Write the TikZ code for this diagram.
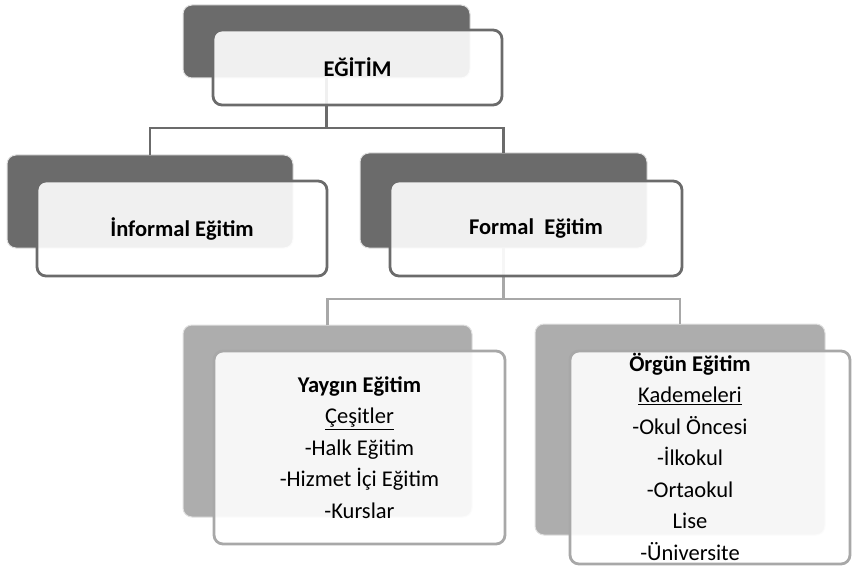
\documentclass[tikz,border=0pt]{standalone}
\usepackage{fontspec}
\setmainfont{Carlito}
\definecolor{darkbox}{HTML}{6B6B6B}
\definecolor{lightbox}{HTML}{ADADAD}
\definecolor{lightline}{HTML}{A8A8A8}
\tikzset{
every node/.style={inner sep=0pt, outer sep=0pt}, % sizes below are the full box sizes
backbox/.style={rectangle, rounded corners=9pt, draw=black!12, line width=1pt, fill=darkbox}, % the shadow box at the back
backlight/.style={backbox, fill=lightbox},
frontbox/.style={rectangle, rounded corners=9pt, draw=darkbox, line width=2.8pt, fill=white, fill opacity=0.9, text opacity=1, align=center, font=\fontsize{22.5}{31.5}\selectfont}, % the box with the text
frontlight/.style={frontbox, draw=lightline},
link/.style={draw=darkbox, line width=2.8pt},
linklight/.style={link, draw=lightline},
}
\begin{document}
\begin{tikzpicture}[x=1pt, y=-1pt]
    \useasboundingbox (0,0) rectangle (852,567);
    % back boxes
    \node[backbox, minimum width=287pt, minimum height=73pt] (egitimBack) at (326.5,41.5) {};
    \node[backbox, minimum width=286pt, minimum height=93pt] (informalBack) at (150,201.5) {};
    \node[backbox, minimum width=287pt, minimum height=95pt] (formalBack) at (503.5,200.5) {};
    \node[backlight, minimum width=289pt, minimum height=192pt] (yayginBack) at (327.5,421) {};
    \node[backlight, minimum width=290pt, minimum height=211pt] (orgunBack) at (680,429.5) {};
    % connectors
    \draw[link] (egitimBack.south) -- ++(0,50) coordinate (topJoin);
    \draw[link] (informalBack.north) |- (topJoin) -| (formalBack.north);
    \draw[linklight] (formalBack.south) -- ++(0,51) coordinate (lowJoin);
    \draw[linklight] (yayginBack.north) |- (lowJoin) -| (orgunBack.north);
    % front boxes
    \node[frontbox, minimum width=289pt, minimum height=75pt] (egitim) at (357.5,67.5) {\textbf{EĞİTİM}};
    \node[frontbox, minimum width=290pt, minimum height=95pt] (informal) at (182,228.5) {\textbf{İnformal Eğitim}};
    \node[frontbox, minimum width=292pt, minimum height=95pt] (formal) at (536,228.5) {\textbf{Formal\ \ Eğitim}};
    \node[frontlight, minimum width=291pt, minimum height=193pt] (yaygin) at (359.5,447.5)
        {\textbf{Yaygın Eğitim}\\\underline{Çeşitler}\\-Halk Eğitim\\-Hizmet İçi Eğitim\\-Kurslar};
    \node[frontlight, minimum width=280pt, minimum height=213pt] (orgun) at (710,457.5) {};
    \node[align=center, font=\fontsize{22.5}{31.5}\selectfont] (orgunText) at (690,456.5)
        {\textbf{Örgün Eğitim}\\\underline{Kademeleri}\\-Okul Öncesi\\-İlkokul\\-Ortaokul\\Lise\\-Üniversite};
\end{tikzpicture}
\end{document}
